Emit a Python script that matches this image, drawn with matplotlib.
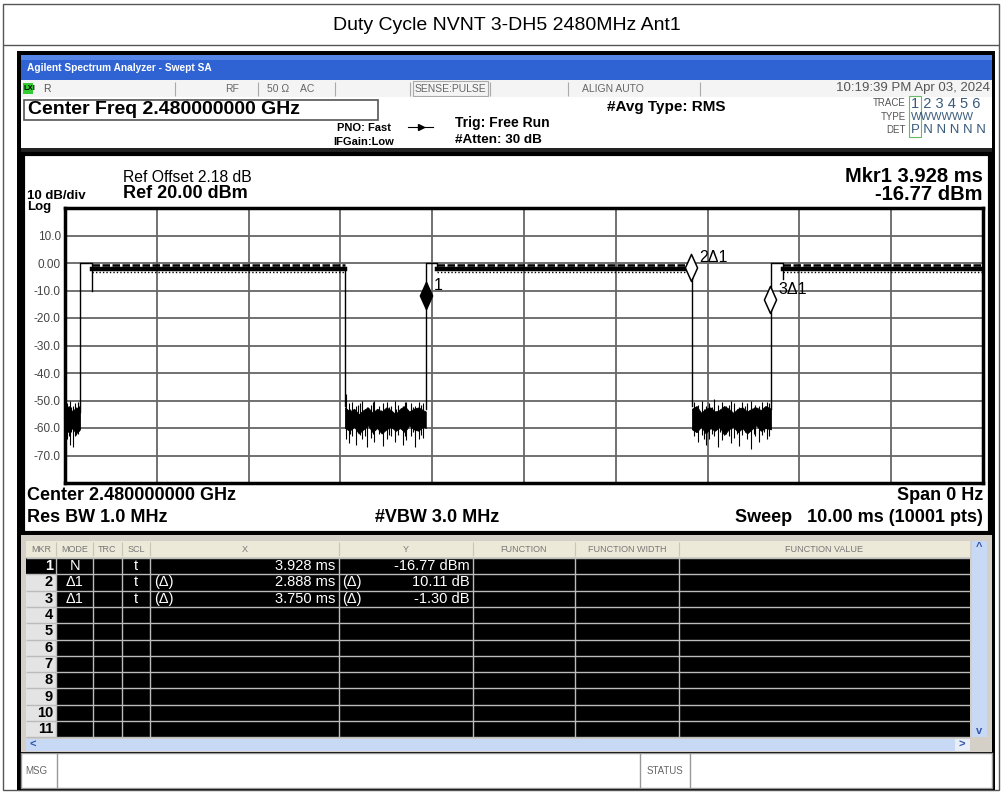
import matplotlib
matplotlib.use('Agg')
import matplotlib.pyplot as plt
from matplotlib.patches import Rectangle
from matplotlib.path import Path
from matplotlib import font_manager

# ── Values ────────────────────────────────────────────────────────────────────
title = 'Duty Cycle NVNT 3-DH5 2480MHz Ant1'

# burst outline (time in ms, level in dBm)
pulse_on   = [0.163, 3.93, 7.69]
pulse_step = [0.29, 4.05, 7.82]
pulse_dip  = [-10.0, -2.5, -5.8]
pulse_off  = [3.05, 6.83, 10.0]
pulse_base = [-54.0, -53.0, -53.0]
level_top, level_mid, level_low = -0.6, -2.0, -3.4

# noise floor between bursts: core envelope
gapA_t  = [0.00, 0.04, 0.08, 0.12, 0.163]
gapA_hi = [-53.5, -52.0, -54.0, -52.5, -53.0]
gapA_lo = [-60.5, -61.5, -60.0, -62.0, -60.5]

gapB_t  = [3.05, 3.10, 3.15, 3.20, 3.25, 3.30, 3.35, 3.40, 3.45, 3.50,
           3.55, 3.60, 3.65, 3.70, 3.75, 3.80, 3.85, 3.90, 3.93]
gapB_hi = [-52.5, -54.0, -53.0, -55.0, -53.5, -52.5, -54.5, -53.0, -54.0, -52.5,
           -53.5, -55.0, -53.0, -52.0, -54.0, -53.0, -52.5, -53.5, -54.0]
gapB_lo = [-60.0, -61.0, -59.5, -62.0, -60.5, -59.0, -61.5, -60.0, -62.0, -60.5,
           -59.5, -61.0, -60.0, -61.5, -59.0, -60.5, -61.0, -59.5, -60.0]

gapC_t  = [6.83, 6.88, 6.93, 6.98, 7.03, 7.08, 7.13, 7.18, 7.23, 7.28,
           7.33, 7.38, 7.43, 7.48, 7.53, 7.58, 7.63, 7.69]
gapC_hi = [-53.0, -52.0, -54.5, -53.0, -52.5, -54.0, -53.5, -52.0, -53.0, -54.5,
           -53.0, -52.5, -54.0, -53.0, -52.5, -53.5, -52.0, -53.0]
gapC_lo = [-60.5, -61.5, -59.5, -62.0, -60.0, -61.0, -59.5, -62.5, -60.5, -59.5,
           -61.5, -60.0, -62.0, -60.5, -59.0, -61.0, -60.0, -60.5]

# noise spikes: time, top, bottom
spikeA_t   = [0.01, 0.02, 0.04, 0.05, 0.07, 0.09, 0.11, 0.12, 0.14, 0.15]
spikeA_top = [-52.0, -51.0, -53.0, -50.0, -52.5, -52.0, -51.0, -53.0, -50.5, -52.0]
spikeA_bot = [-62.0, -64.0, -63.0, -66.0, -61.5, -67.0, -63.0, -62.5, -62.0, -61.0]

spikeB_t   = [3.06, 3.09, 3.11, 3.13, 3.17, 3.19, 3.21, 3.24, 3.27, 3.29, 3.33, 3.35,
              3.37, 3.42, 3.44, 3.46, 3.51, 3.53, 3.55, 3.59, 3.61, 3.63, 3.68, 3.70,
              3.72, 3.77, 3.79, 3.81, 3.86, 3.88, 3.90]
spikeB_top = [-47.5, -51.0, -53.0, -50.5, -52.0, -51.5, -51.0, -50.0, -53.0, -52.5, -51.5, -50.5,
              -50.0, -52.0, -53.5, -51.0, -50.5, -52.5, -52.0, -50.0, -53.0, -51.5, -52.0, -50.5,
              -50.5, -51.0, -52.5, -52.0, -50.5, -51.5, -51.0]
spikeB_bot = [-64.0, -65.5, -62.0, -63.0, -66.0, -61.5, -62.5, -64.0, -63.0, -67.0, -63.5, -62.0,
              -65.0, -62.0, -61.5, -66.5, -64.0, -62.5, -63.0, -65.0, -61.0, -62.5, -66.0, -63.0,
              -64.5, -63.0, -61.5, -67.0, -64.0, -62.5, -63.5]

spikeC_t   = [6.85, 6.87, 6.89, 6.94, 6.96, 6.98, 7.02, 7.05, 7.07, 7.11, 7.14, 7.16,
              7.20, 7.23, 7.25, 7.29, 7.32, 7.34, 7.38, 7.41, 7.43, 7.47, 7.50, 7.52,
              7.56, 7.59, 7.61, 7.65, 7.67]
spikeC_top = [-50.5, -52.5, -51.5, -50.0, -53.0, -52.0, -51.0, -52.5, -49.5, -51.5, -53.0, -50.5,
              -52.0, -51.5, -50.0, -51.0, -53.0, -52.5, -50.5, -52.0, -51.0, -50.0, -52.5, -51.5,
              -52.0, -50.5, -53.0, -50.5, -51.0]
spikeC_bot = [-63.0, -61.5, -65.0, -62.5, -64.0, -66.0, -64.0, -62.0, -63.0, -67.0, -61.5, -64.5,
              -62.0, -63.0, -65.5, -63.5, -62.0, -66.5, -62.5, -61.5, -64.0, -67.5, -62.0, -63.0,
              -65.0, -62.5, -61.5, -64.0, -63.0]

# marker table
mkr_num    = list(range(1, 12))
mkr_mode   = ['N', 'Δ1', 'Δ1']
mkr_scl    = ['t', 't', 't']
mkr_x_ms   = [3.928, 2.888, 3.750]
mkr_y      = [-16.77, 10.11, -1.30]
mkr_unit   = ['dBm', 'dB', 'dB']
mkr_labels = ['1', '2Δ1', '3Δ1']

y_ticks = [10, 0, -10, -20, -30, -40, -50, -60, -70]
y_tick_labels = ['10.0', '0.00', '-10.0', '-20.0', '-30.0', '-40.0', '-50.0', '-60.0', '-70.0']

# ── Fonts ─────────────────────────────────────────────────────────────────────
names = {f.name for f in font_manager.fontManager.ttflist}
SANS = 'Liberation Sans'
NARROW = 'Liberation Sans Narrow' if 'Liberation Sans Narrow' in names else 'Liberation Sans'

# ── Figure and pixel-space helpers ────────────────────────────────────────────
W, H = 1003, 793
fig = plt.figure(figsize=(W / 100, H / 100), dpi=100)
bg = fig.add_axes([0, 0, 1, 1])
bg.set_xlim(0, W)
bg.set_ylim(H, 0)
bg.axis('off')


def box(x0, y0, x1, y1, fc='none', ec='none', lw=1.0, z=1):
    bg.add_patch(Rectangle((x0, y0), x1 - x0, y1 - y0, facecolor=fc,
                           edgecolor=ec, linewidth=lw, zorder=z))


def line(xs, ys, color='black', lw=1.0, z=2):
    bg.plot(xs, ys, color=color, lw=lw, zorder=z, solid_capstyle='butt')


def txt(x, y, s, size=10, ha='left', color='black', weight='normal', family=SANS, z=5):
    bg.text(x, y, s, fontsize=size, ha=ha, va='center', color=color,
            fontweight=weight, family=family, zorder=z)


# outer report frame and title
box(3, 4, 999, 790, ec='#555555', lw=1)
line([3, 999], [45, 45], color='#555555')
txt(507, 26, title, size=14, ha='center')

# analyzer screen
box(17, 51, 995, 790, fc='black')
box(21, 55, 992, 80, fc='#2f63d4')
box(21, 55, 992, 60, fc='#5585e6')
txt(27, 68, 'Agilent Spectrum Analyzer - Swept SA', size=7.3, color='white',
    weight='bold', family=NARROW)

# status row
box(21, 80, 992, 97, fc='#f4f4f4')
box(23, 83, 33, 94, fc='#33cc33')
txt(24, 88.5, 'LXI', size=5.5, weight='bold', family=NARROW)
txt(43, 88.5, 'R', size=7.5, color='#555555', family=NARROW)
for xs in [175, 258, 335, 410, 490, 568, 700]:
    line([xs, xs], [82, 96], color='#aaaaaa', lw=0.8)
txt(232, 88.5, 'RF', size=7.5, color='#666666', family=NARROW, ha='center')
txt(267, 88.5, '50 Ω    AC', size=7.5, color='#666666', family=NARROW)
box(413, 81, 488, 96, ec='#aaaaaa', lw=0.8)
txt(450, 88.5, 'SENSE:PULSE', size=7.5, color='#666666', family=NARROW, ha='center')
txt(613, 88.5, 'ALIGN AUTO', size=7.5, color='#666666', family=NARROW, ha='center')
txt(990, 88.5, '10:19:39 PM Apr 03, 2024', size=9.5, color='#555555', family=NARROW, ha='right')

# setup header
box(21, 97, 992, 149, fc='white')
box(24, 100, 378, 120, fc='white', ec='#555555', lw=1.2, z=2)
txt(28, 110, 'Center Freq 2.480000000 GHz', size=14, weight='bold')
txt(364, 128, 'PNO: Fast', size=8, weight='bold', family=NARROW, ha='center')
txt(364, 142, 'IFGain:Low', size=8, weight='bold', family=NARROW, ha='center')
bg.plot([408, 433], [127, 127], color='black', lw=0.8, zorder=3)
bg.plot([421], [127], marker='>', ms=4, color='black', zorder=3)
txt(455, 123, 'Trig: Free Run', size=10, weight='bold', family=NARROW)
txt(455, 140, '#Atten: 30 dB', size=9.7, weight='bold', family=NARROW)
txt(607, 107, '#Avg Type: RMS', size=11, weight='bold', family=NARROW)
txt(906, 103, 'TRACE', size=7, color='#555555', family=NARROW, ha='right')
txt(906, 117, 'TYPE', size=7, color='#555555', family=NARROW, ha='right')
txt(906, 130, 'DET', size=7, color='#555555', family=NARROW, ha='right')
txt(911, 104, '1 2 3 4 5 6', size=10.5, color='#3a5a7a', family=NARROW)
txt(911, 117, 'WWWWWW', size=8, color='#3a5a7a', family=NARROW)
txt(911, 130, 'P N N N N N', size=9.5, color='#3a5a7a', family=NARROW)
box(909, 96, 921, 137, ec='#66bb66', lw=0.8, z=2)

# graph panel
box(21, 148, 992, 153, fc='#222222')
box(23, 154, 990, 533, fc='white', ec='black', lw=3)
txt(123, 178, 'Ref Offset 2.18 dB', size=11.3)
txt(123, 194, 'Ref 20.00 dBm', size=13, weight='bold')
txt(27, 196, '10 dB/div', size=9.5, weight='bold')
txt(27, 207, 'Log', size=9.5, weight='bold')
txt(983, 176, f'Mkr1 {mkr_x_ms[0]:.3f} ms', size=14.5, weight='bold', ha='right')
txt(983, 194, f'{mkr_y[0]:.2f} {mkr_unit[0]}', size=14.5, weight='bold', ha='right')
txt(27, 496, 'Center 2.480000000 GHz', size=13, weight='bold')
txt(27, 518, 'Res BW 1.0 MHz', size=13, weight='bold')
txt(375, 518, '#VBW 3.0 MHz', size=13, weight='bold')
txt(983, 496, 'Span 0 Hz', size=13, weight='bold', ha='right')
txt(983, 518, 'Sweep   10.00 ms (10001 pts)', size=13, weight='bold', ha='right')

# marker table
box(21, 535, 992, 752, fc='#d4d0c8')
col_edges = [26, 56, 93, 122, 150, 339, 473, 575, 679, 970]
headers = ['MKR', 'MODE', 'TRC', 'SCL', 'X', 'Y', 'FUNCTION', 'FUNCTION WIDTH', 'FUNCTION VALUE']
box(26, 541, 970, 557, fc='#ece9d8')
for i, h in enumerate(headers):
    txt((col_edges[i] + col_edges[i + 1]) / 2, 549, h, size=6.5, color='#777777',
        family=NARROW, ha='center')
    if i > 0:
        line([col_edges[i], col_edges[i]], [542, 556], color='#c8c4b8', lw=0.8)
row_h = 16.3
row_y0 = 558
box(56, row_y0, 970, row_y0 + 11 * row_h, fc='black')
box(26, row_y0, 56, row_y0 + 11 * row_h, fc='#e4e4e4')
box(26, row_y0, 56, row_y0 + row_h, fc='black')
for r in range(12):
    line([26, 970], [row_y0 + r * row_h] * 2, color='#bbbbbb', lw=1)
for xe in col_edges[1:-1]:
    line([xe, xe], [row_y0, row_y0 + 11 * row_h], color='#bbbbbb', lw=1)
for r, n in enumerate(mkr_num):
    yc = row_y0 + (r + 0.5) * row_h
    txt(53, yc, str(n), size=10.5, weight='bold', ha='right',
        color='white' if r == 0 else 'black')
for r in range(len(mkr_mode)):
    yc = row_y0 + (r + 0.5) * row_h
    txt(75, yc, mkr_mode[r], size=10.5, color='white', ha='center')
    txt(136, yc, mkr_scl[r], size=10.5, color='white', ha='center')
    txt(335, yc, f'{mkr_x_ms[r]:.3f} ms', size=10.5, color='white', ha='right')
    txt(470, yc, f'{mkr_y[r]:.2f} {mkr_unit[r]}', size=10.5, color='white', ha='right')
    if r > 0:
        txt(154, yc, '(Δ)', size=10.5, color='white')
        txt(342, yc, '(Δ)', size=10.5, color='white')
# scroll bars
box(26, 739, 970, 751, fc='#c8d9f6')
box(955, 739, 970, 751, fc='#e8eef8')
txt(30, 745, '<', size=8, color='#3355aa', weight='bold')
txt(962, 745, '>', size=8, color='#3355aa', weight='bold', ha='center')
box(972, 541, 987, 737, fc='#c8d9f6')
txt(979, 547, '^', size=8, color='#3355aa', weight='bold', ha='center')
txt(979, 731, 'v', size=8, color='#3355aa', weight='bold', ha='center')

# message line
box(21, 753, 992, 788, fc='white', ec='#999999', lw=1)
line([57, 57], [753, 788], color='#999999')
line([640, 640], [753, 788], color='#999999')
line([690, 690], [753, 788], color='#999999')
txt(25, 771, 'MSG', size=7, color='#666666', family=NARROW)
txt(665, 771, 'STATUS', size=7, color='#666666', family=NARROW, ha='center')

# ── Trace graticule ───────────────────────────────────────────────────────────
ax = fig.add_axes([65 / W, 1 - 483 / H, 918 / W, 275 / H])
ax.set_xlim(0, 10)
ax.set_ylim(-80, 20)
ax.set_xticks(range(1, 10))
ax.set_xticklabels([])
ax.set_yticks(y_ticks)
ax.set_yticklabels(y_tick_labels, fontsize=8.5, color='#444444', family=NARROW)
ax.tick_params(length=0, pad=3)
ax.grid(color='#666666', lw=1.3)
ax.set_axisbelow(True)
for sp in ax.spines.values():
    sp.set_linewidth(2.5)

# burst outlines and tops
for i in range(3):
    ax.plot([pulse_on[i], pulse_on[i], pulse_step[i], pulse_step[i]],
            [pulse_base[i], 0, 0, pulse_dip[i]], color='black', lw=1)
    ax.plot([pulse_step[i], pulse_off[i]], [level_mid, level_mid], color='black', lw=3.2)
    ax.plot([pulse_step[i], pulse_off[i]], [level_top, level_top], color='black', lw=1.8,
            dashes=(3.0, 1.0))
    ax.plot([pulse_step[i], pulse_off[i]], [level_low, level_low], color='black', lw=1.0,
            dashes=(1.0, 1.5))
    if i < 2:
        ax.plot([pulse_off[i], pulse_off[i]], [level_mid, -52], color='black', lw=1)

# noise floor
for t, hi, lo in [(gapA_t, gapA_hi, gapA_lo), (gapB_t, gapB_hi, gapB_lo),
                  (gapC_t, gapC_hi, gapC_lo)]:
    ax.fill_between(t, hi, lo, color='black', lw=0.6)
for t, top, bot in [(spikeA_t, spikeA_top, spikeA_bot), (spikeB_t, spikeB_top, spikeB_bot),
                    (spikeC_t, spikeC_top, spikeC_bot)]:
    ax.vlines(t, bot, top, color='black', lw=0.8)

# markers (diamond tip sits on the marker point)
tip_diamond = Path([(0, 0), (-0.45, 1), (0, 2), (0.45, 1), (0, 0)],
                   [Path.MOVETO, Path.LINETO, Path.LINETO, Path.LINETO, Path.CLOSEPOLY])
for k in range(3):
    mt = mkr_x_ms[0] + (mkr_x_ms[k] if k > 0 else 0)
    md = mkr_y[0] + (mkr_y[k] if k > 0 else 0)
    ax.plot([mt], [md], marker=tip_diamond, ms=39, mew=1.1, mec='black',
            mfc='black' if k == 0 else 'white', zorder=6)
    ax.annotate(mkr_labels[k], (mt, md), xytext=(6, 17), textcoords='offset points',
                fontsize=11.5, va='center', ha='left', family=SANS, zorder=7)

fig.savefig('out.png', dpi=100)
